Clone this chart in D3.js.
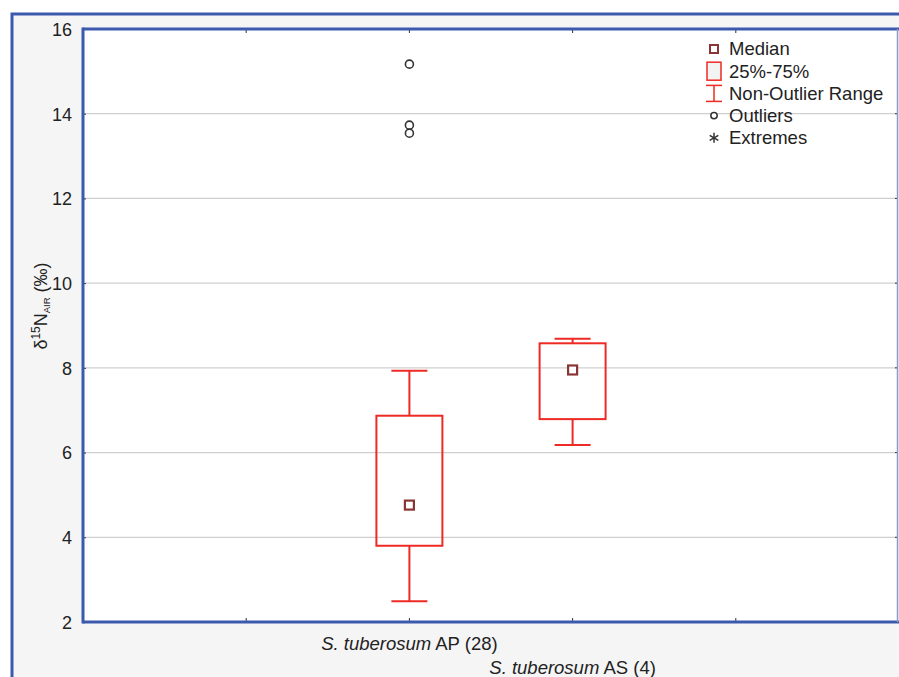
<!DOCTYPE html>
<html><head><meta charset="utf-8">
<script src="https://cdn.jsdelivr.net/npm/d3@7"></script>
<style>body{margin:0;background:#fff}svg{display:block}</style>
</head><body>
<script>
const categories = ["AP", "AS"];
const catLabels = [["S. tuberosum", " AP (28)"], ["S. tuberosum", " AS (4)"]];
const whiskerLow = [2.49, 6.18];
const q1 = [3.80, 6.79];
const medians = [4.76, 7.95];
const q3 = [6.87, 8.58];
const whiskerHigh = [7.93, 8.69];
const outliers = [[15.17, 13.73, 13.54], []];
const yTicks = [2, 4, 6, 8, 10, 12, 14, 16];
const legendItems = ["Median", "25%-75%", "Non-Outlier Range", "Outliers", "Extremes"];

const W = 899, H = 677;
const L = 83, R = 898, T = 29, B = 622;
const red = "#ee2a24", dred = "#8a3535", blue = "#3c5aad", font = "Liberation Sans, Arial, sans-serif";

const svg = d3.select("body").append("svg").attr("width", W).attr("height", H);
svg.append("rect").attr("x", 12).attr("y", 14).attr("width", W).attr("height", H)
  .attr("fill", "#f5f5f5").attr("stroke", blue).attr("stroke-width", 3);
svg.append("rect").attr("x", L).attr("y", T).attr("width", R - L).attr("height", B - T).attr("fill", "#fff");

const y = d3.scaleLinear().domain([2, 16]).range([B, T]);
const x = d3.scalePoint().domain(categories).range([L, R + 1]).padding(2);
const step = x.step();

// gridlines
svg.append("g").selectAll("line").data(yTicks.filter(d => d > 2 && d < 16)).join("line")
  .attr("x1", L).attr("x2", R).attr("y1", d => y(d)).attr("y2", d => y(d))
  .attr("stroke", "#cfcfcf").attr("stroke-width", 1.2);

// y axis
const ya = svg.append("g").attr("transform", `translate(${L},0)`)
  .call(d3.axisLeft(y).tickValues(yTicks).tickSize(-3).tickPadding(11).tickFormat(d3.format("d")));
ya.select(".domain").remove();
ya.selectAll("line").attr("stroke", "#333");
ya.selectAll("text").attr("font-family", font).attr("font-size", 18).attr("fill", "#222").attr("dy", "0.35em").attr("y", 0);
// right ticks
svg.append("g").selectAll("line").data(yTicks).join("line")
  .attr("x1", R - 3).attr("x2", R).attr("y1", d => y(d)).attr("y2", d => y(d)).attr("stroke", "#333");

// x tick positions (including empty slots)
const xTickPos = [x(categories[0]) - step, x(categories[0]), x(categories[1]), x(categories[1]) + step];
svg.append("g").selectAll("line").data(xTickPos).join("line")
  .attr("x1", d => d).attr("x2", d => d).attr("y1", B - 4).attr("y2", B).attr("stroke", "#333");
svg.append("g").selectAll("line").data(xTickPos).join("line")
  .attr("x1", d => d).attr("x2", d => d).attr("y1", T).attr("y2", T + 4).attr("stroke", "#333");

// borders
svg.append("line").attr("x1", L).attr("x2", L).attr("y1", T - 1.5).attr("y2", B + 1.5).attr("stroke", blue).attr("stroke-width", 3);
svg.append("line").attr("x1", L).attr("x2", W).attr("y1", T).attr("y2", T).attr("stroke", blue).attr("stroke-width", 3);
svg.append("line").attr("x1", L).attr("x2", W).attr("y1", B).attr("y2", B).attr("stroke", blue).attr("stroke-width", 3);
svg.append("line").attr("x1", R - 0.5).attr("x2", R - 0.5).attr("y1", T).attr("y2", B).attr("stroke", "#8a9bcc").attr("stroke-width", 1.5);

// boxes
const bw = 66, cw = 36;
const g = svg.append("g");
categories.forEach((c, i) => {
  const cx = x(c);
  g.append("line").attr("x1", cx).attr("x2", cx).attr("y1", y(whiskerHigh[i])).attr("y2", y(q3[i])).attr("stroke", red).attr("stroke-width", 2);
  g.append("line").attr("x1", cx).attr("x2", cx).attr("y1", y(q1[i])).attr("y2", y(whiskerLow[i])).attr("stroke", red).attr("stroke-width", 2);
  g.append("line").attr("x1", cx - cw / 2).attr("x2", cx + cw / 2).attr("y1", y(whiskerHigh[i])).attr("y2", y(whiskerHigh[i])).attr("stroke", red).attr("stroke-width", 2);
  g.append("line").attr("x1", cx - cw / 2).attr("x2", cx + cw / 2).attr("y1", y(whiskerLow[i])).attr("y2", y(whiskerLow[i])).attr("stroke", red).attr("stroke-width", 2);
  g.append("rect").attr("x", cx - bw / 2).attr("y", y(q3[i])).attr("width", bw).attr("height", y(q1[i]) - y(q3[i]))
    .attr("fill", "none").attr("stroke", red).attr("stroke-width", 2);
  g.append("rect").attr("x", cx - 4.5).attr("y", y(medians[i]) - 4.5).attr("width", 9).attr("height", 9)
    .attr("fill", "#fff").attr("stroke", dred).attr("stroke-width", 2.2);
  g.selectAll(null).data(outliers[i]).join("circle").attr("cx", cx).attr("cy", d => y(d)).attr("r", 4)
    .attr("fill", "#fff").attr("stroke", "#333").attr("stroke-width", 1.6);
});

// x labels
catLabels.forEach((lab, i) => {
  const t = svg.append("text").attr("x", x(categories[i])).attr("y", i === 0 ? 650 : 674)
    .attr("text-anchor", "middle").attr("font-family", font).attr("font-size", 18.5).attr("fill", "#222");
  t.append("tspan").attr("font-style", "italic").text(lab[0]);
  t.append("tspan").text(lab[1]);
});

// y label
const yl = svg.append("text").attr("transform", "translate(47,306) rotate(-90)").attr("text-anchor", "middle")
  .attr("font-family", font).attr("font-size", 18).attr("fill", "#222");
yl.append("tspan").text("δ");
yl.append("tspan").attr("font-size", 12).attr("dy", -7).text("15");
yl.append("tspan").attr("dy", 7).text("N");
yl.append("tspan").attr("font-size", 9.5).attr("dy", 3).text("AIR");
yl.append("tspan").attr("dy", -3).text(" (‰)");

// legend
const lg = svg.append("g");
const lx = 714, ly0 = 49, ld = 22.2;
legendItems.forEach((t, i) => {
  lg.append("text").attr("x", 729).attr("y", ly0 + i * ld).attr("dy", "0.35em")
    .attr("font-family", font).attr("font-size", 18.5).attr("fill", "#222").text(t);
});
lg.append("rect").attr("x", lx - 4).attr("y", ly0 - 4).attr("width", 8).attr("height", 8).attr("fill", "#fff").attr("stroke", dred).attr("stroke-width", 2);
lg.append("rect").attr("x", lx - 7).attr("y", ly0 + ld - 9).attr("width", 14).attr("height", 18).attr("fill", "#f3f3f3").attr("stroke", red).attr("stroke-width", 1.5);
const wy = ly0 + 2 * ld;
lg.append("line").attr("x1", lx).attr("x2", lx).attr("y1", wy - 8).attr("y2", wy + 8).attr("stroke", red).attr("stroke-width", 1.5);
lg.append("line").attr("x1", lx - 8).attr("x2", lx + 8).attr("y1", wy - 8).attr("y2", wy - 8).attr("stroke", red).attr("stroke-width", 1.5);
lg.append("line").attr("x1", lx - 8).attr("x2", lx + 8).attr("y1", wy + 8).attr("y2", wy + 8).attr("stroke", red).attr("stroke-width", 1.5);
lg.append("circle").attr("cx", lx).attr("cy", ly0 + 3 * ld).attr("r", 3.2).attr("fill", "#fff").attr("stroke", "#333").attr("stroke-width", 1.5);
const ey = ly0 + 4 * ld;
[0, 60, 120].forEach(a => {
  const r = 5, rad = a * Math.PI / 180;
  lg.append("line").attr("x1", lx - r * Math.sin(rad)).attr("x2", lx + r * Math.sin(rad))
    .attr("y1", ey - r * Math.cos(rad)).attr("y2", ey + r * Math.cos(rad)).attr("stroke", "#333").attr("stroke-width", 1.5);
});
</script>
</body></html>
